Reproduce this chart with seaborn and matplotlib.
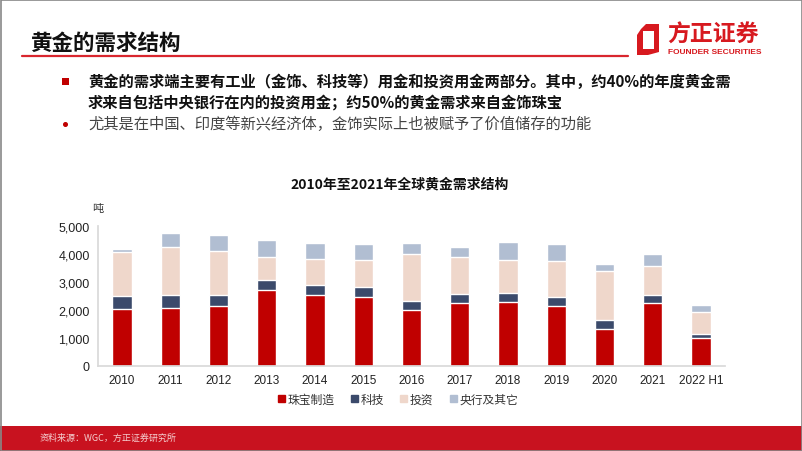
import numpy as np
import pandas as pd
import seaborn as sns
import matplotlib.pyplot as plt
from matplotlib.patches import Rectangle, Polygon

years = ["2010", "2011", "2012", "2013", "2014", "2015", "2016",
         "2017", "2018", "2019", "2020", "2021", "2022 H1"]
jewellery = [2020, 2085, 2140, 2710, 2535, 2475, 2010, 2250, 2285, 2155, 1330, 2235, 990]
technology = [475, 440, 385, 370, 345, 335, 320, 335, 335, 320, 300, 310, 165]
investment = [1585, 1735, 1585, 800, 940, 965, 1670, 1320, 1180, 1275, 1760, 1015, 760]
central_bank = [85, 475, 560, 620, 585, 585, 380, 355, 640, 595, 260, 450, 275]

series_names = ["珠宝制造", "科技", "投资", "央行及其它"]
colors = ["#C00000", "#3B4A6B", "#EFD7CB", "#B1BED2"]

sns.set_theme(style="white")
plt.rcParams["font.family"] = ["Noto Sans CJK SC", "DejaVu Sans"]

df = pd.DataFrame({
    "year": years,
    "珠宝制造": jewellery,
    "科技": technology,
    "投资": investment,
    "央行及其它": central_bank,
})
cum = df[series_names].cumsum(axis=1)

fig = plt.figure(figsize=(8.02, 4.52), dpi=100)
fig.patch.set_facecolor("white")

ax = fig.add_axes([98 / 802, 85 / 452, 627 / 802, 140 / 452])
# stacked bars: draw cumulative totals from the top layer down
for name, color in reversed(list(zip(series_names, colors))):
    sns.barplot(x=df["year"], y=cum[name], color=color, width=0.4,
                saturation=1, ax=ax)

ax.set_xlim(-0.5, len(years) - 0.5)
ax.set_ylim(0, 5000)
yticks = [0, 1000, 2000, 3000, 4000, 5000]
ax.set_yticks(yticks)
ax.set_yticklabels([f"{v:,}" for v in yticks],
                   family=["Liberation Sans", "DejaVu Sans"], fontsize=9, color="#222222")
ax.set_xticks(range(len(years)))
ax.set_xticklabels(years, family=["Liberation Sans", "DejaVu Sans"], fontsize=8.5, color="#222222")
ax.set_xlabel("")
ax.set_ylabel("")
for s in ["top", "right"]:
    ax.spines[s].set_visible(False)
ax.spines["left"].set_color("#D9D9D9")
ax.spines["bottom"].set_color("#D9D9D9")
ax.tick_params(axis="both", length=0, pad=6)
# small separators between categories on the x axis
ax.set_xticks(np.arange(-0.5, len(years)), minor=True)
ax.tick_params(axis="x", which="minor", length=4, color="#D9D9D9", width=0.8)

# legend in the original order
handles = [Rectangle((0, 0), 1, 1, color=c) for c in colors]
fig.legend(handles, series_names, loc="center", bbox_to_anchor=(398 / 802, 1 - 400 / 452),
           ncol=4, frameon=False, fontsize=8.5, handlelength=0.6, handleheight=0.6,
           handletextpad=0.2, columnspacing=1.4, labelcolor="#333333")

fig.text(98 / 802, 1 - 209 / 452, "吨", fontsize=8, ha="center", va="center", color="#333333")
fig.text(400 / 802, 1 - 184 / 452, "2010年至2021年全球黄金需求结构", fontsize=10,
         fontweight="bold", ha="center", va="center", color="#111111")

# header
fig.text(30 / 802, 1 - 43 / 452, "黄金的需求结构", fontsize=15.5, fontweight="bold",
         ha="left", va="center", color="#111111")
fig.add_artist(plt.Line2D([22 / 802, 628 / 802], [1 - 57 / 452, 1 - 57 / 452],
                          color="#D9262E", lw=1.6))

# logo
fig.add_artist(Polygon([(p[0] / 802, 1 - p[1] / 452) for p in
                        [(641, 30), (646, 25), (659, 25), (659, 53), (648, 56), (637, 56), (637, 36)]],
                       closed=True, facecolor="#D7191F", edgecolor="none", transform=fig.transFigure))
fig.add_artist(Rectangle((643 / 802, 1 - 50 / 452), 11 / 802, 18 / 452, facecolor="white",
                         edgecolor="none", transform=fig.transFigure))
fig.text(667 / 802, 1 - 35 / 452, "方正证券", fontsize=16.5, fontweight="bold",
         ha="left", va="center", color="#D7191F")
fig.text(668 / 802, 1 - 53 / 452, "FOUNDER SECURITIES", fontsize=6, fontweight="bold",
         ha="left", va="center", color="#D7191F", family=["Liberation Sans", "DejaVu Sans"])

# bullets
fig.add_artist(Rectangle((62 / 802, 1 - 86 / 452), 7 / 802, 7 / 452, facecolor="#C00000",
                         edgecolor="none", transform=fig.transFigure))
fig.text(88 / 802, 1 - 82 / 452,
         "黄金的需求端主要有工业（金饰、科技等）用金和投资用金两部分。其中，约40%的年度黄金需",
         fontsize=11, fontweight="bold", ha="left", va="center", color="#111111")
fig.text(88 / 802, 1 - 103 / 452,
         "求来自包括中央银行在内的投资用金；约50%的黄金需求来自金饰珠宝",
         fontsize=11, fontweight="bold", ha="left", va="center", color="#111111")
fig.add_artist(plt.Line2D([65 / 802], [1 - 125 / 452], marker="o", markersize=2.6,
                          color="#C00000", linestyle="none"))
fig.text(88 / 802, 1 - 124 / 452,
         "尤其是在中国、印度等新兴经济体，金饰实际上也被赋予了价值储存的功能",
         fontsize=11, ha="left", va="center", color="#444444")

# footer band
fig.add_artist(Rectangle((0, 0), 1, 25 / 452, facecolor="#C8121F", edgecolor="none",
                         transform=fig.transFigure))
fig.text(40 / 802, 1 - 438 / 452, "资料来源：WGC，方正证券研究所", fontsize=6.5,
         ha="left", va="center", color="#F5D0D0")

# frame
fig.add_artist(Rectangle((0.5 / 802, 0.5 / 452), 801 / 802, 451 / 452, facecolor="none",
                         edgecolor="#888888", lw=1.2, transform=fig.transFigure))

fig.savefig("out.png", dpi=100)
